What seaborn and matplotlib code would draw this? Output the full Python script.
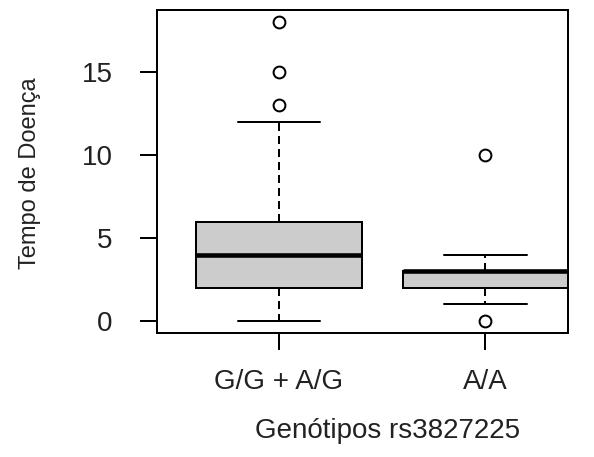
import pandas as pd
import numpy as np
import matplotlib
matplotlib.use('Agg')
import matplotlib.pyplot as plt
import seaborn as sns

# grupos de genotipo
grupos = ['G/G + A/G', 'A/A']
# tiempo de enfermedad por grupo
tempo_gg_ag = [0, 1, 1, 2, 2, 2, 2, 3, 3, 4, 4, 4, 4, 4, 5, 5, 6, 6, 6, 7, 9, 12, 13, 15, 18]
tempo_aa = [0, 1, 2, 2, 2, 3, 3, 3, 3, 3, 3, 4, 10]
yticks = [0, 5, 10, 15]

df = pd.DataFrame({
    'genotipo': [grupos[0]] * len(tempo_gg_ag) + [grupos[1]] * len(tempo_aa),
    'tempo': tempo_gg_ag + tempo_aa,
})

sns.set_style('white')
plt.rcParams['font.family'] = ['Liberation Sans', 'DejaVu Sans']

lw = 1.44
fig = plt.figure(figsize=(5.94, 4.57), dpi=100)
ax = fig.add_axes([157 / 594, 1 - 333 / 457, 411 / 594, 323 / 457])

sns.boxplot(data=df, x='genotipo', y='tempo', order=grupos, ax=ax,
            color='#cccccc', saturation=1, linecolor='black', linewidth=lw,
            width=0.8, whis=1.5,
            medianprops={'linewidth': 3.3, 'color': 'black', 'solid_capstyle': 'butt'},
            whiskerprops={'linestyle': (0, (4, 2.5)), 'linewidth': lw},
            capprops={'linewidth': lw},
            flierprops={'marker': 'o', 'markerfacecolor': 'none',
                        'markeredgecolor': 'black', 'markersize': 8.5,
                        'markeredgewidth': lw})

ax.set_xlim(-0.591, 1.40)
ax.set_ylim(-0.72, 18.75)
ax.set_yticks(yticks)

for s in ax.spines.values():
    s.set_visible(True)
    s.set_color('black')
    s.set_linewidth(lw)

ax.tick_params(axis='both', direction='out', length=12, width=lw, color='black',
               labelsize=20, labelcolor='#222222', left=True, bottom=True)
ax.tick_params(axis='y', pad=20)
ax.tick_params(axis='x', pad=14)

ax.set_xlabel('Genótipos rs3827225', fontsize=20, color='#222222')
ax.set_ylabel('Tempo de Doença', fontsize=17, color='#222222')
ax.xaxis.set_label_coords(0.56, -0.262)
ax.yaxis.set_label_coords(-0.31, 0.495)
ax.yaxis.label.set_verticalalignment('center')

fig.savefig('out.png', dpi=100)
